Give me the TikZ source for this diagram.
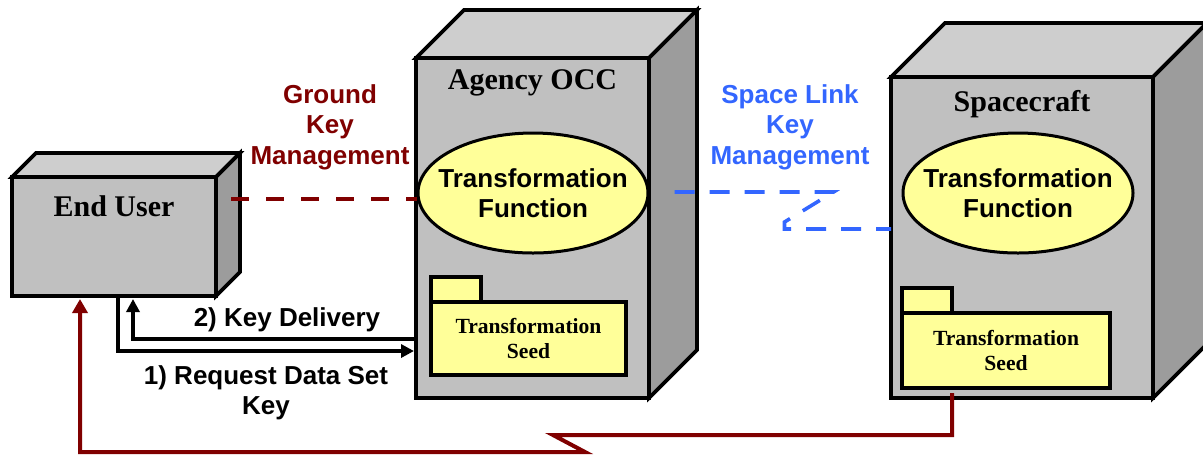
\documentclass[tikz,border=0pt]{standalone}
\usepackage{fontspec}
\setmainfont{Liberation Serif}
\setsansfont{Liberation Sans}
\usepackage{tikz}
\usetikzlibrary{arrows.meta}
\usetikzlibrary{calc}
\usetikzlibrary{fit}
\usetikzlibrary{shapes}
\usetikzlibrary{positioning}
\definecolor{frontgray}{RGB}{192,192,192}
\definecolor{topgray}{RGB}{206,206,206}
\definecolor{sidegray}{RGB}{156,156,156}
\definecolor{seedyellow}{RGB}{255,255,153}
\definecolor{grounddark}{RGB}{128,0,0}
\definecolor{linkblue}{RGB}{51,102,255}
\tikzset{
  cabinetline/.style={draw=black,line width=1.8pt,line join=miter},
  cabinetfront/.style={cabinetline,fill=frontgray,inner sep=0pt,outer sep=0pt},
  cabinettitle/.style={font=\fontsize{15}{17}\selectfont\bfseries},
  function/.style={ellipse,draw,line width=1.5pt,fill=seedyellow,
    minimum width=115pt,minimum height=60pt,inner sep=0pt},
  functiontext/.style={align=center,font=\sffamily\bfseries\fontsize{13}{15}\selectfont},
  folderline/.style={draw=black,line width=1.7pt,fill=seedyellow},
  folderbody/.style={folderline,inner sep=0pt,outer sep=0pt,align=center,
    font=\fontsize{10.8}{12.5}\selectfont\bfseries},
  groundlabel/.style={align=center,text=grounddark,
    font=\sffamily\bfseries\fontsize{13}{15.25}\selectfont},
  linklabel/.style={groundlabel,text=linkblue},
  keylabel/.style={align=center,font=\sffamily\bfseries\fontsize{13}{15}\selectfont},
  grounddash/.style={draw=grounddark,line width=2pt,dash pattern=on 9pt off 8.5pt},
  linkdash/.style={draw=linkblue,line width=1.8pt,dash pattern=on 10pt off 7.5pt},
  keyarrow/.style={draw,line width=1.8pt,-{Triangle[length=6.5pt,width=6.5pt]}},
  groundarrow/.style={draw=grounddark,line width=2pt,-{Triangle[length=7pt,width=7.5pt]}}
}
\newcommand\cabinet[6]{
  % name, left, top, right, bottom, depth
  \filldraw[cabinetline,fill=topgray] (#2,#3) -- ++(#6,-#6) -- (#4+#6,#3-#6) -- (#4,#3) -- cycle;
  \filldraw[cabinetline,fill=sidegray] (#4,#3) -- (#4+#6,#3-#6) -- (#4+#6,#5-#6) -- (#4,#5) -- cycle;
  \path (#2,#3) coordinate (#1-nw) (#4,#5) coordinate (#1-se);
  \node[cabinetfront,fit=(#1-nw)(#1-se)] (#1) {};
}
\newcommand\seedfolder[5]{
  % name, left, tab top, right, bottom
  \filldraw[folderline] (#2,#3) rectangle (#2+50,#3+25);
  \path (#2,#3+25) coordinate (#1-nw) (#4,#5) coordinate (#1-se);
  \node[folderbody,fit=(#1-nw)(#1-se)] (#1) {};
  \node[folderbody,draw=none,fill=none] at (#1.center) {Transformation\\Seed};
}
\begin{document}
\begin{tikzpicture}[x=0.5pt,y=-0.5pt]
  %
  \useasboundingbox (0,0) rectangle (1203,457);

  \cabinet{user}{12}{177}{216}{296}{24}
  \cabinet{occ}{416}{58}{649}{398}{48}
  \cabinet{sc}{891}{77}{1153}{398}{54}

  \node[cabinettitle] (usertitle) at ($(user.north)+(0,29)$) {End User};
  \node[cabinettitle] (occtitle) at ($(occ.north)+(0,25)$) {Agency OCC};
  \node[cabinettitle] (sctitle) at ($(sc.north)+(0,27)$) {Spacecraft};

  \node[function] (occfun) at (533,193) {};
  \node[functiontext] at (occfun.center) {Transformation\\Function};
  \node[function] (scfun) at (1018,193) {};
  \node[functiontext] at (scfun.center) {Transformation\\Function};

  \seedfolder{occseed}{431}{277}{626}{375}
  \seedfolder{scseed}{902}{288}{1110}{388}

  \node[groundlabel] (groundkm) at (330,127) {Ground\\Key\\Management};
  \node[linklabel] (linkkm) at (790,127) {Space Link\\Key\\Management};
  \node[keylabel] (delivery) at (287,320) {2) Key Delivery};
  \node[keylabel] (request) at (266,393) {1) Request Data Set\\Key};

  \coordinate (gstart) at ($(user.north east)+(15,22)$);
  \draw[grounddash] (gstart) -- (gstart -| occfun.west);

  \coordinate (lstart) at ($(occfun.east)+(25,-1)$);
  \coordinate (lkink) at ($(lstart)+(110,37)$);
  \draw[linkdash] (lstart) -- ++(159,0) -- ++(-49,30) -- (lkink) -- (lkink -| sc.west);

  \coordinate (reqout) at ($(user.south west)+(106,0)$);
  \coordinate (reqin) at ($(occ.south west)+(-2,-47)$);
  \draw[keyarrow] (reqout) |- (reqin);

  \coordinate (delout) at ($(occ.south west)+(0,-59)$);
  \coordinate (delin) at ($(user.south west)+(121,3)$);
  \draw[keyarrow] (delout) -| (delin);

  \coordinate (seedout) at ($(scseed.south west)+(50,5)$);
  \coordinate (zigtop) at (553,435);
  \coordinate (zigbot) at (585,452);
  \coordinate (userin) at ($(user.south west)+(68,3)$);
  \draw[groundarrow] (seedout) |- (zigtop) -- (zigbot) -| (userin);

\end{tikzpicture}
\end{document}
